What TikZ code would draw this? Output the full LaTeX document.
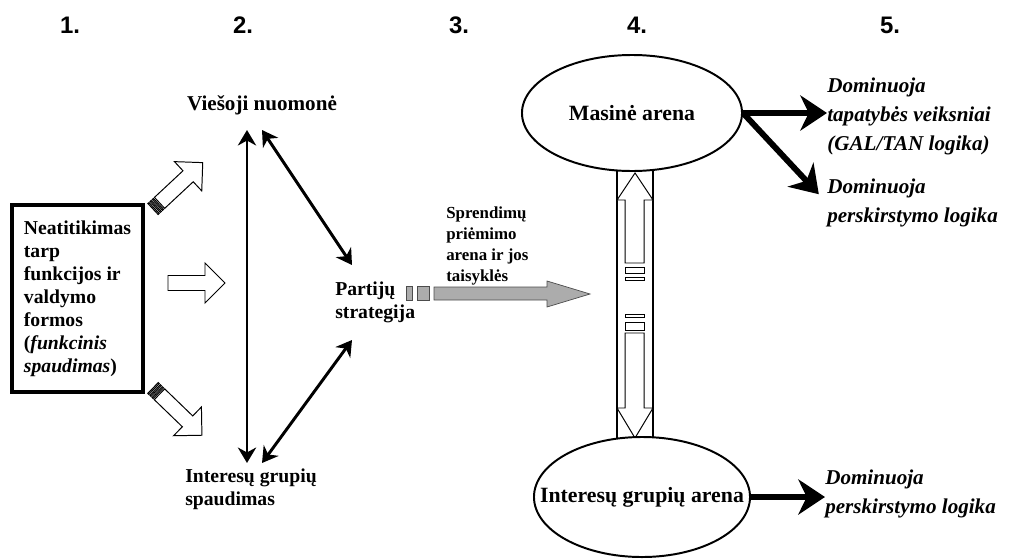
\documentclass[tikz,border=0pt]{standalone}
\usepackage{fontspec}
\setmainfont{Liberation Serif}
\setsansfont{Liberation Sans}
\usetikzlibrary{arrows.meta, shapes.geometric}

\begin{document}
\begin{tikzpicture}[x=0.025cm, y=-0.025cm,
		lbl/.style = {font=\fontsize{14}{16.3}\selectfont\bfseries, align=left, inner sep=0pt},
		dom/.style = {font=\fontsize{15}{20.6}\selectfont\bfseries\itshape, align=left, inner sep=0pt, anchor=west},
		num/.style = {font=\fontsize{17}{20}\selectfont\sffamily\bfseries, inner sep=0pt},
		arena/.style = {draw, ellipse, line width=1.4pt, fill=white, inner sep=0pt},
		ar/.style = {font=\fontsize{15.5}{18}\selectfont\bfseries, inner sep=0pt},
		hollow/.style = {draw, line width=0.7pt, fill=white},
		thin arrow/.style = {>={Stealth[length=11pt, width=13pt, inset=3.5pt]}, <->, line width=2.1pt},
		thick arrow/.style = {-{Stealth[length=19pt, width=25pt, inset=6pt]}, line width=4.2pt}]
		
		\useasboundingbox (0,0) rectangle (1010,559);
		
		\node[num] (n1) at (70,25) {1.};
		\node[num] (n2) at (243,25) {2.};
		\node[num] (n3) at (459,25) {3.};
		\node[num] (n4) at (637,25) {4.};
		\node[num] (n5) at (890,25) {5.};
		
		\node[lbl, draw, line width=2.3pt, minimum width=3.275cm, minimum height=4.675cm] (neat) at (77.5,298.5)
			{Neatitikimas\\tarp\\funkcijos ir\\valdymo\\formos\\(\textit{funkcinis}\\\textit{spaudimas})};
		
		\node[lbl, font=\fontsize{15}{18}\selectfont\bfseries] (vie) at (262,105) {Viešoji nuomonė};
		\node[lbl, anchor=west] (int) at (185,489) {Interesų grupių\\spaudimas};
		\node[lbl, anchor=west] (par) at (335,302) {Partijų\\strategija};
		\node[lbl, anchor=west, font=\fontsize{12}{14.9}\selectfont\bfseries] (spr) at (446,246)
			{Sprendimų\\priėmimo\\arena ir jos\\taisyklės};
		
		\begin{scope}[shift={(168,283)}]
			\draw[hollow] (0,-7.5) -- (37,-7.5) -- (37,-20) -- (57,0) -- (37,20) -- (37,7.5) -- (0,7.5) -- cycle;
		\end{scope}
		
		\begin{scope}[shift={(153,209)}, rotate=43]
			\draw[hollow] (9,-7.5) -- (48,-7.5) -- (48,-20) -- (68,0) -- (48,20) -- (48,7.5) -- (9,7.5) -- cycle;
			\foreach \s in {0,3,6}
				\draw[hollow] (\s,-7.5) rectangle (\s+1.5,7.5);
		\end{scope}
		
		\begin{scope}[shift={(153,388)}, rotate=-44]
			\draw[hollow] (9,-7.5) -- (48,-7.5) -- (48,-20) -- (68,0) -- (48,20) -- (48,7.5) -- (9,7.5) -- cycle;
			\foreach \s in {0,3,6}
				\draw[hollow] (\s,-7.5) rectangle (\s+1.5,7.5);
		\end{scope}
		
		\coordinate (vt) at (247,130);
		\coordinate (vb) at (247,463);
		\coordinate (dt) at (262,130);
		\coordinate (db) at (262,463);
		\coordinate (pt) at (352,265);
		\coordinate (pb) at (352,340);
		
		\begin{scope}[thin arrow]
			\draw (vt) -- (vb);
			\draw (dt) -- (pt);
			\draw (db) -- (pb);
		\end{scope}
		
		\begin{scope}[fill=gray!65, draw=gray!60!black, line width=0.5pt]
			\filldraw (406,286) rectangle (412,300);
			\filldraw (417,286) rectangle (429,300);
			\filldraw (434,287) -- (547,287) -- (547,281) -- (590,294) -- (547,307) -- (547,300) -- (434,300) -- cycle;
		\end{scope}
		
		\begin{scope}[line width=1.4pt]
			\draw (617,160) -- (617,450);
			\draw (653,160) -- (653,450);
		\end{scope}
		
		\draw[hollow] (625,263) -- (625,200) -- (617,200) -- (635,173) -- (653,200) -- (644,200) -- (644,263) -- cycle;
		\draw[hollow] (625,267) rectangle (644,273);
		\draw[hollow] (625,277) rectangle (644,280);
		\draw[hollow] (625,314) rectangle (644,317);
		\draw[hollow] (625,322) rectangle (644,330);
		\draw[hollow] (625,333) -- (625,408) -- (617,408) -- (635,438) -- (653,408) -- (644,408) -- (644,333) -- cycle;
		
		\node[arena, minimum width=5.5cm, minimum height=2.9cm, label={[ar]center:Masinė arena}] (mas) at (632,113) {};
		\node[arena, minimum width=5.4cm, minimum height=3cm, label={[ar]center:Interesų grupių arena}] (igr) at (642,497) {};
		
		\node[dom] (dom1) at (827,116) {Dominuoja\\tapatybės veiksniai\\(GAL/TAN logika)};
		\node[dom] (dom2) at (827,203) {Dominuoja\\perskirstymo logika};
		\node[dom] (dom3) at (825,494) {Dominuoja\\perskirstymo logika};
		
		\begin{scope}[thick arrow]
			\draw (mas.east) -- (mas.east -| dom1.west);
			\draw[shorten >=0.3cm] (mas.east) -- (dom2.west);
			\draw (igr.east) -- (igr.east -| dom3.west);
		\end{scope}
	\end{tikzpicture}
\end{document}
